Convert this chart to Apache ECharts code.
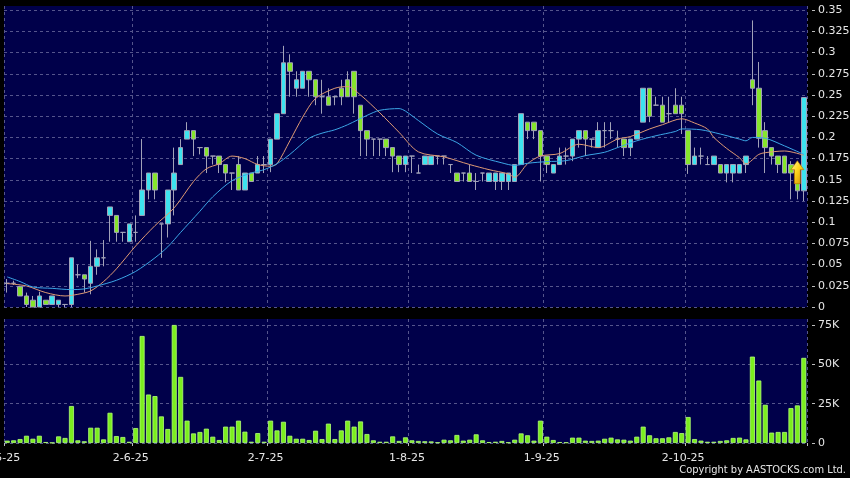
<!DOCTYPE html>
<html><head><meta charset="utf-8">
<script src="https://cdn.jsdelivr.net/npm/echarts@6/dist/echarts.min.js"></script>
<style>html,body{margin:0;padding:0;background:#000;}#c{width:850px;height:478px;}</style>
</head><body><div id="c"></div>
<script>
// ---- data ----
const dates = [
'2-5-25','6-5-25','7-5-25','8-5-25','9-5-25','12-5-25','13-5-25','14-5-25','15-5-25','16-5-25',
'19-5-25','20-5-25','21-5-25','22-5-25','23-5-25','26-5-25','27-5-25','28-5-25','29-5-25','30-5-25',
'2-6-25','3-6-25','4-6-25','5-6-25','6-6-25','9-6-25','10-6-25','11-6-25','12-6-25','13-6-25',
'16-6-25','17-6-25','18-6-25','19-6-25','20-6-25','23-6-25','24-6-25','25-6-25','26-6-25','27-6-25',
'30-6-25','2-7-25','3-7-25','4-7-25','7-7-25','8-7-25','9-7-25','10-7-25','11-7-25','14-7-25',
'15-7-25','16-7-25','17-7-25','18-7-25','21-7-25','22-7-25','23-7-25','24-7-25','25-7-25','28-7-25',
'29-7-25','30-7-25','31-7-25','1-8-25','4-8-25','5-8-25','6-8-25','7-8-25','8-8-25','11-8-25',
'12-8-25','13-8-25','14-8-25','15-8-25','18-8-25','19-8-25','20-8-25','21-8-25','22-8-25','25-8-25',
'26-8-25','27-8-25','28-8-25','29-8-25','1-9-25','2-9-25','3-9-25','4-9-25','5-9-25','8-9-25',
'9-9-25','10-9-25','11-9-25','12-9-25','15-9-25','16-9-25','17-9-25','18-9-25','19-9-25','22-9-25',
'23-9-25','24-9-25','25-9-25','26-9-25','29-9-25','30-9-25','2-10-25','3-10-25','6-10-25','8-10-25',
'9-10-25','10-10-25','13-10-25','14-10-25','15-10-25','16-10-25','17-10-25','20-10-25','21-10-25','22-10-25',
'23-10-25','24-10-25','27-10-25','28-10-25','30-10-25'
];
const dateLabels = ['2-5-25','2-6-25','2-7-25','1-8-25','1-9-25','2-10-25'];

const openP = [
0.028,0.028,0.024,0.013,0.008,0.000,0.008,0.003,0.003,0.003,
0.003,0.038,0.038,0.028,0.048,0.058,0.108,0.108,0.088,0.077,
0.088,0.108,0.138,0.158,0.098,0.098,0.138,0.168,0.198,0.208,
0.188,0.188,0.178,0.178,0.168,0.158,0.168,0.138,0.158,0.158,
0.168,0.168,0.198,0.228,0.288,0.258,0.258,0.278,0.268,0.248,
0.248,0.248,0.258,0.268,0.278,0.238,0.208,0.198,0.198,0.198,
0.188,0.178,0.168,0.178,0.158,0.168,0.168,0.178,0.178,0.168,
0.158,0.158,0.158,0.148,0.158,0.148,0.148,0.148,0.148,0.148,
0.168,0.218,0.218,0.208,0.178,0.158,0.168,0.178,0.178,0.198,
0.208,0.198,0.188,0.208,0.208,0.198,0.198,0.188,0.198,0.218,
0.258,0.238,0.238,0.228,0.238,0.238,0.208,0.168,0.178,0.168,
0.168,0.168,0.158,0.158,0.158,0.168,0.268,0.258,0.208,0.188,
0.178,0.178,0.168,0.158,0.137
];
const closeP = [
0.028,0.028,0.013,0.003,0.000,0.013,0.003,0.013,0.008,0.003,
0.058,0.038,0.033,0.048,0.058,0.058,0.118,0.088,0.088,0.098,
0.088,0.138,0.158,0.138,0.098,0.138,0.158,0.188,0.208,0.198,
0.188,0.178,0.178,0.168,0.158,0.158,0.138,0.158,0.148,0.168,
0.168,0.198,0.228,0.288,0.278,0.268,0.278,0.268,0.248,0.248,
0.238,0.248,0.248,0.248,0.248,0.208,0.198,0.198,0.198,0.188,
0.178,0.168,0.178,0.178,0.158,0.178,0.178,0.178,0.178,0.168,
0.148,0.158,0.148,0.148,0.158,0.158,0.158,0.158,0.158,0.168,
0.228,0.208,0.208,0.178,0.168,0.168,0.178,0.178,0.198,0.208,
0.198,0.198,0.208,0.208,0.208,0.198,0.188,0.198,0.208,0.258,
0.225,0.238,0.218,0.228,0.228,0.228,0.168,0.178,0.178,0.168,
0.178,0.158,0.168,0.168,0.168,0.178,0.258,0.199,0.188,0.178,
0.168,0.158,0.158,0.137,0.247
];
const lowP = [
0.017,0.026,0.013,0.000,0.000,0.000,0.003,0.003,0.000,0.000,
0.000,0.034,0.017,0.015,0.038,0.048,0.077,0.077,0.077,0.077,
0.077,0.108,0.127,0.127,0.058,0.082,0.108,0.168,0.198,0.178,
0.180,0.158,0.168,0.158,0.147,0.138,0.138,0.138,0.148,0.158,
0.158,0.159,0.198,0.228,0.248,0.248,0.258,0.248,0.238,0.228,
0.238,0.238,0.238,0.248,0.228,0.178,0.178,0.178,0.178,0.178,
0.159,0.159,0.159,0.158,0.158,0.168,0.168,0.168,0.168,0.158,
0.148,0.148,0.148,0.138,0.148,0.148,0.138,0.138,0.138,0.148,
0.168,0.198,0.198,0.148,0.158,0.158,0.168,0.168,0.172,0.188,
0.178,0.188,0.188,0.188,0.198,0.188,0.178,0.178,0.198,0.218,
0.218,0.238,0.218,0.218,0.228,0.204,0.157,0.168,0.168,0.168,
0.168,0.158,0.147,0.147,0.158,0.158,0.238,0.188,0.158,0.168,
0.158,0.158,0.127,0.127,0.125
];
const highP = [
0.033,0.031,0.025,0.017,0.013,0.018,0.008,0.013,0.008,0.003,
0.058,0.050,0.038,0.078,0.068,0.079,0.118,0.108,0.088,0.098,
0.108,0.198,0.158,0.158,0.098,0.138,0.188,0.198,0.218,0.208,
0.188,0.188,0.178,0.178,0.168,0.158,0.178,0.158,0.158,0.178,
0.178,0.198,0.228,0.308,0.298,0.278,0.278,0.278,0.268,0.268,
0.258,0.248,0.268,0.278,0.278,0.238,0.208,0.198,0.198,0.198,
0.188,0.178,0.178,0.178,0.168,0.178,0.178,0.178,0.178,0.168,
0.158,0.158,0.168,0.158,0.158,0.158,0.158,0.158,0.158,0.168,
0.228,0.218,0.218,0.208,0.178,0.168,0.188,0.188,0.198,0.208,
0.208,0.198,0.218,0.218,0.218,0.208,0.198,0.198,0.208,0.258,
0.258,0.248,0.248,0.248,0.258,0.248,0.208,0.188,0.188,0.178,
0.178,0.168,0.168,0.168,0.168,0.178,0.338,0.289,0.218,0.188,
0.178,0.178,0.172,0.158,0.247
];
// volume in thousands of shares
const volumeK = [
1.5,1.7,2.5,4.6,2.7,4.6,0.6,0.2,4.2,3.2,
23.5,1.7,1.1,9.7,9.7,2.3,19.2,4.4,3.8,0.8,
9.5,68,30.8,29.8,16.9,8.9,75,42,14.2,6.1,
7.0,9.1,4.0,1.9,10.4,10.4,14.2,7.2,0.8,6.3,
0.8,14.2,8.0,13.5,4.6,2.7,2.7,1.9,7.8,2.5,
12.3,2.5,8.0,14.2,10.4,13.7,5.7,1.7,0.8,0.8,
4.2,1.3,3.6,1.7,1.3,1.1,1.0,0.4,2.1,1.7,
5.1,1.5,2.1,5.5,1.7,0.6,0.8,1.3,0.4,2.1,
6.1,4.9,1.5,14.2,4.0,1.9,0.6,0.4,3.4,3.4,
1.5,1.3,1.5,2.7,3.4,2.3,2.1,1.5,4.0,10.4,
4.9,3.0,3.0,3.6,7.0,6.3,16.5,2.5,1.5,0.8,
0.8,1.3,1.7,3.2,3.4,2.3,54.9,39.7,24.3,6.6,
7.0,7.0,22.2,23.9,54.1
];
// moving-average lines: [bar index, price]
const maShort = [
[0,0.0276],[3,0.0248],[6,0.017],[9,0.013],[11,0.015],[13,0.019],[15,0.030],[17,0.045],
[20,0.072],[23,0.096],[26,0.117],[29,0.148],[31,0.163],[33,0.169],[35,0.178],[37,0.175],
[39,0.168],[41,0.166],[42,0.169],[44,0.196],[46,0.224],[48,0.246],[51,0.258],[53,0.260],
[55,0.250],[58,0.229],[61,0.206],[64,0.183],[68,0.177],[72,0.168],[75,0.162],[78,0.157],
[79,0.153],[81,0.169],[83,0.178],[86,0.181],[89,0.192],[92,0.188],[95,0.198],[97,0.201],
[100,0.210],[102,0.215],[105,0.222],[107,0.217],[109,0.210],[110,0.200],[112,0.187],
[114,0.176],[115,0.169],[117,0.180],[118,0.182],[121,0.184],[124,0.179]
];
const maLong = [
[0,0.0355],[2,0.030],[4,0.0236],[7,0.022],[10,0.0205],[12,0.0213],[14,0.0248],[17,0.0315],
[20,0.042],[23,0.058],[25,0.071],[27,0.088],[30,0.113],[32,0.130],[35,0.149],[38,0.158],
[40,0.162],[42,0.169],[44,0.180],[47,0.199],[49,0.205],[51,0.209],[53,0.215],[56,0.226],
[58,0.232],[61,0.234],[62,0.231],[64,0.220],[67,0.204],[70,0.194],[73,0.179],[77,0.170],
[79,0.167],[81,0.1695],[84,0.1715],[87,0.1726],[90,0.1785],[93,0.1825],[95,0.188],[98,0.196],
[101,0.202],[104,0.207],[105,0.210],[108,0.209],[111,0.204],[114,0.198],[115,0.196],
[116,0.200],[118,0.199],[121,0.190],[124,0.180]
];
const priceAxis = {min: 0, max: 0.355, step: 0.025};
const volumeAxis = {min: 0, max: 78.8, step: 25};
const signal = {index: 123.3, price: 0.159};

// ---- chart ----
const FONT = 'DejaVu Sans';
const TXT = '#e6e6e6';
const PLOT = '#00004a';
const dash = {color: '#55558c', type: [3, 3], width: 1};
const isLabelDate = (i, v) => dateLabels.indexOf(v) >= 0;
const candles = dates.map((d, i) => [openP[i], closeP[i], lowP[i], highP[i]]);

const chart = echarts.init(document.getElementById('c'));
chart.setOption({
  backgroundColor: '#000',
  animation: false,
  grid: [
    {left: 4, right: 43, top: 6, height: 301, show: true, backgroundColor: PLOT, borderWidth: 0,
     containLabel: false, outerBoundsMode: 'none'},
    {left: 4, right: 43, top: 319, height: 124, show: true, backgroundColor: PLOT, borderWidth: 0,
     containLabel: false, outerBoundsMode: 'none'}
  ],
  xAxis: [
    {type: 'category', gridIndex: 0, data: dates, boundaryGap: true,
     axisLine: {show: false}, axisTick: {show: false}, axisLabel: {show: false},
     splitLine: {show: true, interval: isLabelDate, lineStyle: dash}},
    {type: 'category', gridIndex: 1, data: dates, boundaryGap: true, offset: 3,
     axisLine: {show: false},
     axisTick: {show: true, interval: isLabelDate, length: 3, lineStyle: {color: '#bbbbbb'}},
     axisLabel: {interval: isLabelDate, color: TXT, fontSize: 11, fontFamily: FONT, margin: 7, padding: [0, 10, 0, 0]},
     splitLine: {show: true, interval: isLabelDate, lineStyle: dash}}
  ],
  yAxis: [
    {type: 'value', gridIndex: 0, position: 'right', offset: 5,
     min: priceAxis.min, max: priceAxis.max, interval: priceAxis.step,
     axisLine: {show: false},
     axisTick: {show: true, length: 3, lineStyle: {color: '#bbbbbb'}},
     axisLabel: {color: TXT, fontSize: 11, fontFamily: FONT, margin: 6, showMaxLabel: false,
       formatter: v => String(+v.toFixed(3))},
     splitLine: {show: true, showMaxLine: false, lineStyle: dash}},
    {type: 'value', gridIndex: 1, position: 'right', offset: 5,
     min: volumeAxis.min, max: volumeAxis.max, interval: volumeAxis.step,
     axisLine: {show: false},
     axisTick: {show: true, length: 3, lineStyle: {color: '#bbbbbb'}},
     axisLabel: {color: TXT, fontSize: 11, fontFamily: FONT, margin: 6, showMaxLabel: false,
       formatter: v => v === 0 ? '0' : (+v.toFixed(1)) + 'K'},
     splitLine: {show: true, showMaxLine: false, lineStyle: dash}}
  ],
  series: [
    {type: 'candlestick', xAxisIndex: 0, yAxisIndex: 0, data: candles, barWidth: 5,
     itemStyle: {color: '#3de3ef', color0: '#86e52c', borderColor: '#a2a2b8', borderColor0: '#a2a2b8',
       borderColorDoji: '#a2a2b8', borderWidth: 1},
     markPoint: {
       silent: true, animation: false,
       data: [{coord: [signal.index, signal.price],
         symbol: 'path://M6.5,0 L13,9 L9.5,9 L9.5,23 L3.5,23 L3.5,9 L0,9 Z',
         symbolSize: [13, 23],
         itemStyle: {color: new echarts.graphic.LinearGradient(0, 0, 1, 1, [
           {offset: 0, color: '#fff7a8'}, {offset: 0.45, color: '#ffd61c'}, {offset: 1, color: '#d08a00'}]),
           borderColor: '#b07000', borderWidth: 0.6},
         label: {show: false}}]
     }},
    {type: 'line', xAxisIndex: 0, yAxisIndex: 0, data: maShort, showSymbol: false, smooth: 0.3,
     lineStyle: {color: '#df9a74', width: 1}},
    {type: 'line', xAxisIndex: 0, yAxisIndex: 0, data: maLong, showSymbol: false, smooth: 0.3,
     lineStyle: {color: '#3ca6e6', width: 1}},
    {type: 'bar', xAxisIndex: 1, yAxisIndex: 1, data: volumeK, barWidth: 5,
     itemStyle: {color: '#7bee1e', borderColor: '#b4ff78', borderWidth: 0.8}}
  ],
  graphic: [
    {type: 'text', right: 4, top: 465,
     style: {text: 'Copyright by AASTOCKS.com Ltd.', fill: TXT, font: '11px "DejaVu Sans Condensed", "DejaVu Sans"'}}
  ]
});
</script>
</body></html>
